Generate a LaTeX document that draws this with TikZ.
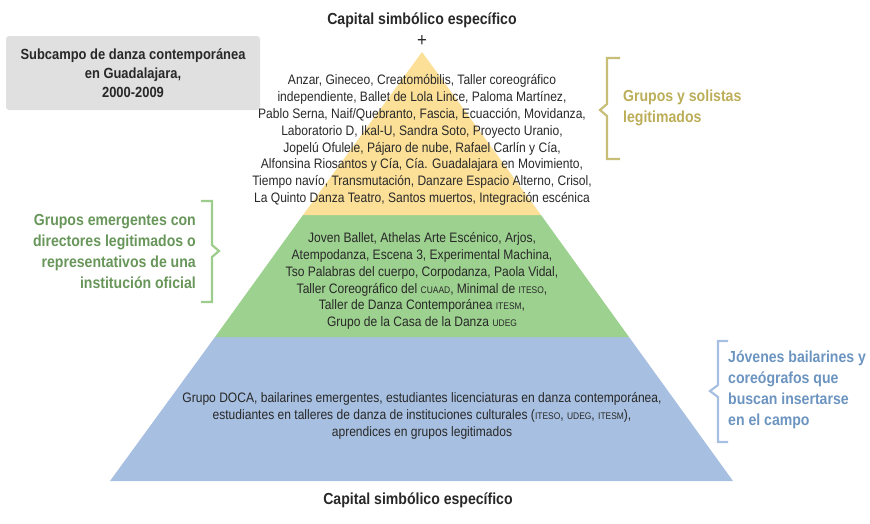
\documentclass[tikz,border=0pt]{standalone}
\usepackage{fontspec}
\setmainfont[FakeStretch=0.88]{Liberation Sans}
\definecolor{txt}{RGB}{40,40,40}
\definecolor{ylay}{RGB}{252,224,152}
\definecolor{glay}{RGB}{157,209,143}
\definecolor{blay}{RGB}{167,191,224}
\definecolor{boxgray}{RGB}{224,224,224}
\definecolor{ytxt}{RGB}{188,174,88}
\definecolor{ybr}{RGB}{200,190,120}
\definecolor{gtxt}{RGB}{104,150,90}
\definecolor{gbr}{RGB}{157,205,140}
\definecolor{btxt}{RGB}{108,148,192}
\definecolor{bbr}{RGB}{167,191,224}
\newcommand{\smc}[1]{{\fontsize{9.6}{10}\selectfont #1}}
\begin{document}
\begin{tikzpicture}[x=1pt,y=-1pt,
  body/.style={font=\fontsize{13.7}{16.9}\selectfont, text=txt, align=center, inner sep=0pt},
  ttl/.style={font=\fontsize{16}{19}\selectfont\bfseries, text=txt, inner sep=0pt},
  lbl/.style={font=\fontsize{16}{21}\selectfont\bfseries, inner sep=0pt},
  brk/.style={line width=2.2pt, line join=miter}]
\path[use as bounding box] (0,0) rectangle (870,523);
% layers
\fill[blay] (215,337) -- (629,337) -- (733,481) -- (110,481) -- cycle;
\fill[glay] (303,215) -- (541,215) -- (629,337) -- (215,337) -- cycle;
\fill[ylay] (422,52) -- (541,215) -- (303,215) -- cycle;
% titles
\node[ttl] (ttop) at (422,20) {Capital simbólico específico};
\node[font=\fontsize{19}{20}\selectfont, text=txt, inner sep=0pt] (plus) at (422,41) {+};
\node[ttl] (tbot) at (418,500) {Capital simbólico específico};
% gray box
\fill[boxgray, rounded corners=3pt] (6,36) rectangle (260,110);
\node[ttl, align=center, font=\fontsize{14.7}{19}\selectfont\bfseries] (box) at (133,73)
 {Subcampo de danza contemporánea\\ en Guadalajara,\\ 2000-2009};
% layer texts
\node[body] (ytext) at (422,140) {Anzar, Gineceo, Creatomóbilis, Taller coreográfico\\
independiente, Ballet de Lola Lince, Paloma Martínez,\\
Pablo Serna, Naif/Quebranto, Fascia, Ecuacción, Movidanza,\\
Laboratorio D, Ikal-U, Sandra Soto, Proyecto Uranio,\\
Jopelú Ofulele, Pájaro de nube, Rafael Carlín y Cía,\\
Alfonsina Riosantos y Cía, Cía. Guadalajara en Movimiento,\\
Tiempo navío, Transmutación, Danzare Espacio Alterno, Crisol,\\
La Quinto Danza Teatro, Santos muertos, Integración escénica};
\node[body] (gtext) at (422,281) {Joven Ballet, Athelas Arte Escénico, Arjos,\\
Atempodanza, Escena 3, Experimental Machina,\\
Tso Palabras del cuerpo, Corpodanza, Paola Vidal,\\
Taller Coreográfico del \smc{CUAAD}, Minimal de \smc{ITESO},\\
Taller de Danza Contemporánea \smc{ITESM},\\
Grupo de la Casa de la Danza \smc{UDEG}};
\node[body] (btext) at (422,416) {Grupo DOCA, bailarines emergentes, estudiantes licenciaturas en danza contemporánea,\\
estudiantes en talleres de danza de instituciones culturales (\smc{ITESO}, \smc{UDEG}, \smc{ITESM}),\\
aprendices en grupos legitimados};
% brackets
\draw[brk, ybr] (620,58) -- (607,58) -- (607,104) -- (600,110) -- (607,116) -- (607,159) -- (620,159);
\draw[brk, gbr] (201,201) -- (212,201) -- (212,245) -- (219,251) -- (212,257) -- (212,302) -- (201,302);
\draw[brk, bbr] (728,341) -- (718,341) -- (718,385) -- (710,391) -- (718,397) -- (718,442) -- (728,442);
% labels
\node[lbl, text=ytxt, align=left, anchor=west] (ylbl) at (623,108) {Grupos y solistas\\ legitimados};
\node[lbl, text=gtxt, align=right, anchor=east] (glbl) at (196,251) {Grupos emergentes con\\ directores legitimados o\\ representativos de una\\ institución oficial};
\node[lbl, text=btxt, align=left, anchor=west] (blbl) at (728,390) {Jóvenes bailarines y\\ coreógrafos que\\ buscan insertarse\\ en el campo};
\end{tikzpicture}
\end{document}
